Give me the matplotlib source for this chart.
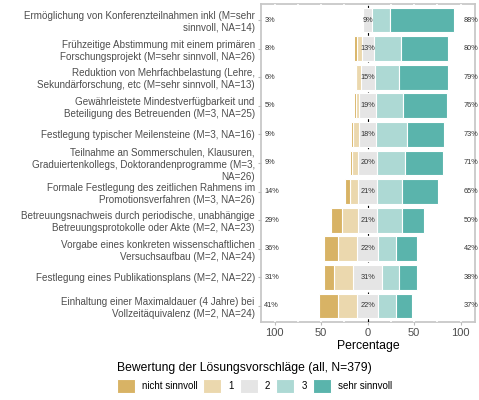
import numpy as np
import matplotlib.pyplot as plt
from matplotlib.patches import Patch

plt.rcParams['font.family'] = ['Liberation Sans', 'DejaVu Sans']

items = [
    "Ermöglichung von Konferenzteilnahmen inkl (M=sehr\nsinnvoll, NA=14)",
    "Frühzeitige Abstimmung mit einem primären\nForschungsprojekt (M=sehr sinnvoll, NA=26)",
    "Reduktion von Mehrfachbelastung (Lehre,\nSekundärforschung, etc (M=sehr sinnvoll, NA=13)",
    "Gewährleistete Mindestverfügbarkeit und\nBeteiligung des Betreuenden (M=3, NA=25)",
    "Festlegung typischer Meilensteine (M=3, NA=16)",
    "Teilnahme an Sommerschulen, Klausuren,\nGraduiertenkollegs, Doktorandenprogramme (M=3,\nNA=26)",
    "Formale Festlegung des zeitlichen Rahmens im\nPromotionsverfahren (M=3, NA=26)",
    "Betreuungsnachweis durch periodische, unabhängige\nBetreuungsprotokolle oder Akte (M=2, NA=23)",
    "Vorgabe eines konkreten wissenschaftlichen\nVersuchsaufbau (M=2, NA=24)",
    "Festlegung eines Publikationsplans (M=2, NA=22)",
    "Einhaltung einer Maximaldauer (4 Jahre) bei\nVollzeitäquivalenz (M=2, NA=24)",
]

levels = ["nicht sinnvoll", "1", "2", "3", "sehr sinnvoll"]
colors = ["#D8B365", "#EBD8AE", "#E5E5E5", "#ADD9D4", "#5AB4AC"]

# percentages per answer level
nicht = [1, 3, 1, 2, 2, 2, 6, 12, 15, 10, 20]
eins = [2, 5, 5, 3, 7, 7, 8, 17, 21, 21, 21]
zwei = [9, 13, 15, 19, 18, 20, 21, 21, 22, 31, 22]
drei = [20, 29.5, 26, 29, 33, 30, 26.5, 26, 19, 18, 19]
sehr = [68, 50.5, 53, 47, 40, 41, 38.5, 24, 23, 20, 18]

low_lab = [3, 8, 6, 5, 9, 9, 14, 29, 36, 31, 41]
mid_lab = [9, 13, 15, 19, 18, 20, 21, 21, 22, 31, 22]
high_lab = [88, 80, 79, 76, 73, 71, 65, 50, 42, 38, 37]

fig = plt.figure(figsize=(4.79, 4.0), dpi=100)
ax = fig.add_axes([0.545, 0.195, 0.447, 0.795])

y = np.arange(len(items))
nicht = np.array(nicht, float)
eins = np.array(eins, float)
zwei = np.array(zwei, float)
drei = np.array(drei, float)
sehr = np.array(sehr, float)

h = 0.87
kw = dict(height=h, edgecolor="white", linewidth=0.8, zorder=3)
# neutral centered on zero
ax.barh(y, zwei, left=-zwei / 2, color=colors[2], **kw)
ax.barh(y, -eins, left=-zwei / 2, color=colors[1], **kw)
ax.barh(y, -nicht, left=-zwei / 2 - eins, color=colors[0], **kw)
ax.barh(y, drei, left=zwei / 2, color=colors[3], **kw)
ax.barh(y, sehr, left=zwei / 2 + drei, color=colors[4], **kw)

for i in range(len(items)):
    ax.text(-111, y[i], f"{low_lab[i]}%", ha="left", va="center", fontsize=5.3, color="#333333", zorder=4)
    ax.text(0, y[i], f"{mid_lab[i]}%", ha="center", va="center", fontsize=5.3, color="#333333", zorder=4)
    ax.text(103.5, y[i], f"{high_lab[i]}%", ha="left", va="center", fontsize=5.3, color="#333333", zorder=4, clip_on=False)

for gx in range(-100, 101, 25):
    if gx != 0:
        ax.axvline(gx, color="white", lw=1.2, zorder=1)
ax.axvline(0, color="black", lw=0.8, ls=(0, (3, 3)), zorder=2)

ax.set_xlim(-114.5, 115.5)
ax.set_ylim(len(items) - 0.44, -0.56)
ax.set_xticks([-100, -50, 0, 50, 100])
ax.set_xticklabels(["100", "50", "0", "50", "100"])
ax.set_yticks(y)
ax.set_yticklabels(items, fontsize=7.1, color="#4D4D4D", linespacing=1.25)
ax.tick_params(axis="x", labelsize=8, colors="#4D4D4D", length=2.5, color="#BBBBBB", pad=2)
ax.tick_params(axis="y", length=2.5, color="#BBBBBB", pad=2)
for s in ax.spines.values():
    s.set_color("#C8C8C8")
    s.set_linewidth(1.3)
    s.set_zorder(0.5)
ax.set_xlabel("Percentage", fontsize=8.8, color="black", labelpad=1)

handles = [Patch(facecolor=c, edgecolor="white", linewidth=0.8) for c in colors]
leg = fig.legend(handles, levels, loc="lower left", bbox_to_anchor=(0.225, -0.005), ncol=5,
                 frameon=False, fontsize=7, handlelength=1.85, handleheight=1.85,
                 handletextpad=0.75, columnspacing=0.6,
                 title="Bewertung der Lösungsvorschläge (all, N=379)",
                 title_fontsize=8.7, alignment="left")

fig.savefig("out.png", dpi=100)
